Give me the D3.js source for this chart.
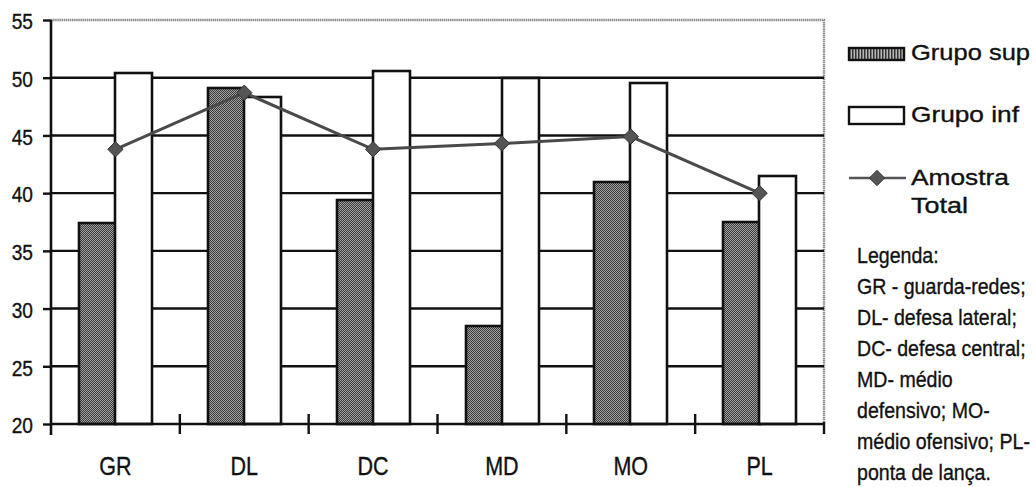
<!DOCTYPE html>
<html>
<head>
<meta charset="utf-8">
<script src="https://cdn.jsdelivr.net/npm/d3@7"></script>
<style>
  html, body { margin: 0; padding: 0; background: #fff; }
  svg { display: block; }
  text { font-family: "Liberation Sans", Arial, Helvetica, sans-serif; stroke: #111; stroke-width: 0.35px; }
</style>
</head>
<body>
<svg id="chart" width="1036" height="487"></svg>
<script>
// Player positions and group means
const categories = ["GR", "DL", "DC", "MD", "MO", "PL"];
const grupoSup = [37.4, 49.1, 39.4, 28.5, 41.0, 37.5];
const grupoInf = [50.4, 48.3, 50.6, 50.0, 49.5, 41.5];
const amostraTotal = [43.8, 48.7, 43.8, 44.3, 44.9, 40.0];
const yTicks = [20, 25, 30, 35, 40, 45, 50, 55];
const seriesNames = ["Grupo sup", "Grupo inf"];
const legendNotes = [
  "Legenda:",
  "GR - guarda-redes;",
  "DL- defesa lateral;",
  "DC- defesa central;",
  "MD- médio",
  "defensivo; MO-",
  "médio ofensivo; PL-",
  "ponta de lança."
];

const svg = d3.select("#chart");
const plot = { left: 51, right: 824, top: 20, bottom: 424 };

const x = d3.scaleBand().domain(categories).range([plot.left, plot.right]).padding(0);
const barW = x.bandwidth() / 3.5;           // gap width 150%
const x1 = d3.scaleBand().domain(seriesNames)
  .range([barW * 0.75, x.bandwidth() - barW * 0.75]).padding(0);
const y = d3.scaleLinear().domain([20, 55]).range([plot.bottom, plot.top]);

// Condense a text horizontally (narrow face look)
function squeeze(sel, k) {
  sel.each(function () {
    const w = this.getComputedTextLength();
    d3.select(this).attr("textLength", w * k).attr("lengthAdjust", "spacingAndGlyphs");
  });
}

// Dithered grey fill for the upper group
const defs = svg.append("defs");
const pat = defs.append("pattern").attr("id", "dots")
  .attr("width", 2).attr("height", 2).attr("patternUnits", "userSpaceOnUse");
pat.append("rect").attr("width", 2).attr("height", 2).attr("fill", "#a4a4a4");
pat.append("rect").attr("x", 0).attr("y", 0).attr("width", 1).attr("height", 1).attr("fill", "#383838");
pat.append("rect").attr("x", 1).attr("y", 1).attr("width", 1).attr("height", 1).attr("fill", "#383838");
const stripes = defs.append("pattern").attr("id", "stripes")
  .attr("width", 3).attr("height", 3).attr("patternUnits", "userSpaceOnUse");
stripes.append("rect").attr("width", 3).attr("height", 3).attr("fill", "#b5b5b5");
stripes.append("rect").attr("width", 1.5).attr("height", 3).attr("fill", "#333");

// Plot frame (top and right), dotted grey
svg.append("path")
  .attr("d", `M${plot.left},${y(55)}H${plot.right}V${plot.bottom}`)
  .attr("fill", "none").attr("stroke", "#8c8c8c").attr("stroke-width", 2.4)
  .attr("stroke-dasharray", "1.5,0.6");

// Horizontal gridlines
svg.append("g").selectAll("line")
  .data(yTicks.filter(v => v > 20 && v < 55))
  .join("line")
  .attr("x1", plot.left).attr("x2", plot.right)
  .attr("y1", d => y(d)).attr("y2", d => y(d))
  .attr("stroke", "#111").attr("stroke-width", 2.4);

// Bars
const groups = svg.append("g").selectAll("g")
  .data(categories.map((c, i) => ({ c, vals: [grupoSup[i], grupoInf[i]] })))
  .join("g")
  .attr("transform", d => `translate(${Math.round(x(d.c))},0)`);

groups.selectAll("rect")
  .data(d => d.vals.map((v, j) => ({ key: seriesNames[j], v })))
  .join("rect")
  .attr("x", d => Math.round(x1(d.key)))
  .attr("width", Math.round(x1.bandwidth()))
  .attr("y", d => Math.round(y(d.v)))
  .attr("height", d => Math.round(y(20)) - Math.round(y(d.v)))
  .attr("fill", d => d.key === "Grupo sup" ? "url(#dots)" : "#fff")
  .attr("stroke", "#111").attr("stroke-width", 2.6);

// Y axis
const yAxis = svg.append("g")
  .attr("transform", `translate(${plot.left},0)`)
  .call(d3.axisLeft(y).tickValues(yTicks).tickSize(8).tickPadding(10).tickSizeOuter(0));
yAxis.select(".domain").remove();
yAxis.selectAll(".tick line").attr("stroke", "#111").attr("stroke-width", 2.4);
yAxis.selectAll(".tick text")
  .attr("font-family", "Liberation Sans, Arial, sans-serif")
  .attr("font-size", 22).attr("fill", "#111")
  .attr("dy", "0.4em")
  .call(squeeze, 0.87);
svg.append("line")
  .attr("x1", plot.left).attr("x2", plot.left)
  .attr("y1", y(55)).attr("y2", plot.bottom + 11)
  .attr("stroke", "#111").attr("stroke-width", 2.6);

// X axis
svg.append("line")
  .attr("x1", plot.left).attr("x2", plot.right)
  .attr("y1", plot.bottom).attr("y2", plot.bottom)
  .attr("stroke", "#111").attr("stroke-width", 2.6);
const boundaries = categories.slice(1).map(c => x(c)).concat([plot.right]);
svg.append("g").selectAll("line")
  .data(boundaries)
  .join("line")
  .attr("x1", d => d).attr("x2", d => d)
  .attr("y1", (d, i) => i === boundaries.length - 1 ? plot.bottom - 2 : plot.bottom - 10)
  .attr("y2", plot.bottom + 10)
  .attr("stroke", "#111").attr("stroke-width", 2.4);
svg.append("g").selectAll("text")
  .data(categories)
  .join("text")
  .attr("x", d => x(d) + x.bandwidth() / 2)
  .attr("y", 475)
  .attr("text-anchor", "middle")
  .attr("font-size", 25).attr("fill", "#111")
  .text(d => d)
  .call(squeeze, 0.86);

// Sample total line with diamond markers
const lineGen = d3.line()
  .x((d, i) => x(categories[i]) + x1("Grupo inf"))
  .y(d => y(d));
svg.append("path")
  .datum(amostraTotal)
  .attr("d", lineGen)
  .attr("fill", "none").attr("stroke", "#4a4a4a").attr("stroke-width", 3);
const diamond = d3.symbol().type(d3.symbolDiamond2).size(150);
svg.append("g").selectAll("path")
  .data(amostraTotal)
  .join("path")
  .attr("transform", (d, i) => `translate(${x(categories[i]) + x1("Grupo inf")},${y(d)})`)
  .attr("d", diamond)
  .attr("fill", "#555").attr("stroke", "#333").attr("stroke-width", 1);

// Legend
const lg = svg.append("g");
lg.append("rect").attr("x", 849).attr("y", 48).attr("width", 55).attr("height", 12)
  .attr("fill", "url(#stripes)").attr("stroke", "#111").attr("stroke-width", 2.4);
lg.append("text").attr("x", 911).attr("y", 59.5)
  .attr("font-size", 22).attr("fill", "#111")
  .attr("textLength", 119).attr("lengthAdjust", "spacingAndGlyphs").text(seriesNames[0]);

lg.append("rect").attr("x", 849).attr("y", 107).attr("width", 55).attr("height", 17)
  .attr("fill", "#fff").attr("stroke", "#111").attr("stroke-width", 2.4);
lg.append("text").attr("x", 911).attr("y", 122)
  .attr("font-size", 22).attr("fill", "#111")
  .attr("textLength", 108).attr("lengthAdjust", "spacingAndGlyphs").text(seriesNames[1]);

lg.append("line").attr("x1", 849).attr("x2", 906).attr("y1", 178).attr("y2", 178)
  .attr("stroke", "#555").attr("stroke-width", 2.6);
lg.append("path").attr("transform", "translate(877,178)").attr("d", diamond)
  .attr("fill", "#555").attr("stroke", "#333").attr("stroke-width", 1);
lg.append("text").attr("x", 911).attr("y", 185)
  .attr("font-size", 22).attr("fill", "#111")
  .attr("textLength", 98).attr("lengthAdjust", "spacingAndGlyphs").text("Amostra");
lg.append("text").attr("x", 911).attr("y", 213)
  .attr("font-size", 22).attr("fill", "#111")
  .attr("textLength", 57).attr("lengthAdjust", "spacingAndGlyphs").text("Total");

// Position key, set in a condensed block
lg.append("g")
  .attr("transform", "translate(857,0) scale(0.89,1)")
  .selectAll("text")
  .data(legendNotes)
  .join("text")
  .attr("x", 0)
  .attr("y", (d, i) => 263 + i * 31)
  .attr("font-size", 22).attr("fill", "#111")
  .text(d => d);
</script>
</body>
</html>
